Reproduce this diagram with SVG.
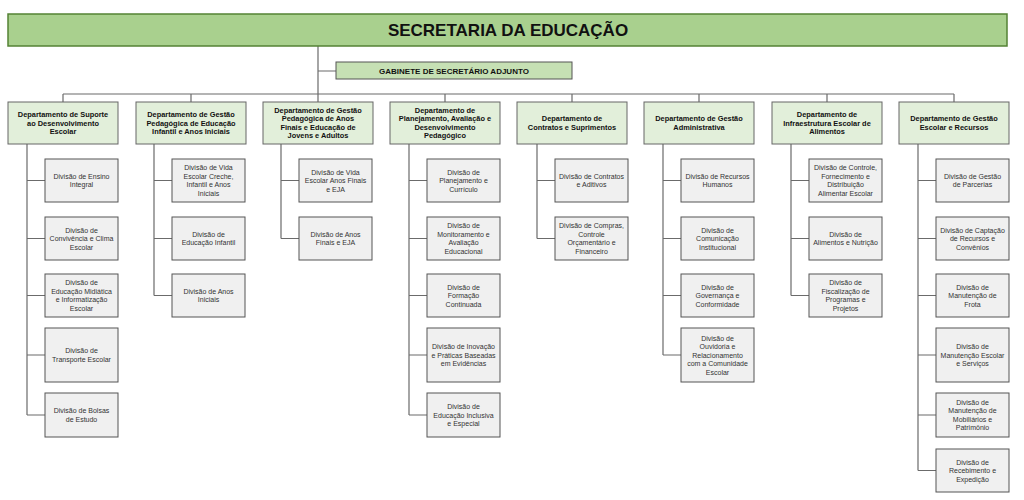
<svg xmlns="http://www.w3.org/2000/svg" width="1024" height="500" viewBox="0 0 1024 500">
<style>
.c{stroke:#6b6b6b;stroke-width:1.2;fill:none}
.top{fill:#a9d08e;stroke:#548235;stroke-width:1.5}
.gab{fill:#c6e0b4;stroke:#555;stroke-width:1}
.dep{fill:#e2efda;stroke:#666;stroke-width:1}
.div{fill:#f0f0f0;stroke:#555;stroke-width:1}
.dt{font-family:"Liberation Sans",Arial,sans-serif;font-size:7.4px;font-weight:bold;text-anchor:middle;fill:#111}
.vt{font-family:"Liberation Sans",Arial,sans-serif;font-size:7px;text-anchor:middle;fill:#333}
</style>
<rect width="1024" height="500" fill="#fff"/>
<g id="connectors">
<path class="c" d="M318 46V102M318 71H336M63 94H954M63 94V102M191 94V102M445 94V102M572 94V102M699 94V102M827 94V102M954 94V102"/>
<path class="c" d="M27 144V415M27 180.5H45M27 238.5H45M27 295.5H45M27 355H45M27 415H45"/>
<path class="c" d="M154 144V295.5M154 180.5H172M154 238.5H172M154 295.5H172"/>
<path class="c" d="M281 144V238.5M281 180.5H299M281 238.5H299"/>
<path class="c" d="M409 144V415M409 180.5H427M409 238.5H427M409 295.5H427M409 355H427M409 415H427"/>
<path class="c" d="M537 144V238.5M537 180.5H555M537 238.5H555"/>
<path class="c" d="M663 144V355M663 180.5H681M663 238.5H681M663 295.5H681M663 355H681"/>
<path class="c" d="M791 144V295.5M791 180.5H809M791 238.5H809M791 295.5H809"/>
<path class="c" d="M918 144V470.5M918 180.5H936M918 238.5H936M918 295.5H936M918 355H936M918 415H936M918 470.5H936"/>
</g>
<g id="secretaria"><rect class="top" x="8" y="14" width="999" height="32"/><text x="508" y="36" font-family="'Liberation Sans',Arial,sans-serif" font-size="17" font-weight="bold" text-anchor="middle" fill="#111">SECRETARIA DA EDUCAÇÃO</text></g>
<g id="gabinete"><rect class="gab" x="336" y="62" width="236" height="17"/><text class="dt" x="454" y="73.5" style="font-size:8px">GABINETE DE SECRETÁRIO ADJUNTO</text></g>

<g id="dep1"><rect class="dep" x="8" y="102" width="110" height="42"/><text class="dt" y="117"><tspan x="63">Departamento de Suporte</tspan><tspan x="63" dy="8.5">ao Desenvolvimento</tspan><tspan x="63" dy="8.5">Escolar</tspan></text></g>
<g id="dep2"><rect class="dep" x="136" y="102" width="110" height="42"/><text class="dt" y="117"><tspan x="191">Departamento de Gestão</tspan><tspan x="191" dy="8.5">Pedagógica de Educação</tspan><tspan x="191" dy="8.5">Infantil e Anos Iniciais</tspan></text></g>
<g id="dep3"><rect class="dep" x="263" y="102" width="110" height="42"/><text class="dt" y="112.5"><tspan x="318">Departamento de Gestão</tspan><tspan x="318" dy="8.5">Pedagógica de Anos</tspan><tspan x="318" dy="8.5">Finais e Educação de</tspan><tspan x="318" dy="8.5">Jovens e Adultos</tspan></text></g>
<g id="dep4"><rect class="dep" x="390" y="102" width="110" height="42"/><text class="dt" y="112.5"><tspan x="445">Departamento de</tspan><tspan x="445" dy="8.5">Planejamento, Avaliação e</tspan><tspan x="445" dy="8.5">Desenvolvimento</tspan><tspan x="445" dy="8.5">Pedagógico</tspan></text></g>
<g id="dep5"><rect class="dep" x="517" y="102" width="110" height="42"/><text class="dt" y="121"><tspan x="572">Departamento de</tspan><tspan x="572" dy="8.5">Contratos e Suprimentos</tspan></text></g>
<g id="dep6"><rect class="dep" x="644" y="102" width="110" height="42"/><text class="dt" y="121"><tspan x="699">Departamento de Gestão</tspan><tspan x="699" dy="8.5">Administrativa</tspan></text></g>
<g id="dep7"><rect class="dep" x="772" y="102" width="110" height="42"/><text class="dt" y="117"><tspan x="827">Departamento de</tspan><tspan x="827" dy="8.5">Infraestrutura Escolar de</tspan><tspan x="827" dy="8.5">Alimentos</tspan></text></g>
<g id="dep8"><rect class="dep" x="899" y="102" width="110" height="42"/><text class="dt" y="121"><tspan x="954">Departamento de Gestão</tspan><tspan x="954" dy="8.5">Escolar e Recursos</tspan></text></g>

<g id="d1-1"><rect class="div" x="45" y="159" width="73" height="43"/><text class="vt" y="178.75"><tspan x="81.5">Divisão de Ensino</tspan><tspan x="81.5" dy="8.5">Integral</tspan></text></g>
<g id="d1-2"><rect class="div" x="45" y="217" width="73" height="43"/><text class="vt" y="232.5"><tspan x="81.5">Divisão de</tspan><tspan x="81.5" dy="8.5">Convivência e Clima</tspan><tspan x="81.5" dy="8.5">Escolar</tspan></text></g>
<g id="d1-3"><rect class="div" x="45" y="274" width="73" height="43"/><text class="vt" y="285.25"><tspan x="81.5">Divisão de</tspan><tspan x="81.5" dy="8.5">Educação Midiática</tspan><tspan x="81.5" dy="8.5">e Informatização</tspan><tspan x="81.5" dy="8.5">Escolar</tspan></text></g>
<g id="d1-4"><rect class="div" x="45" y="328" width="73" height="54"/><text class="vt" y="353.25"><tspan x="81.5">Divisão de</tspan><tspan x="81.5" dy="8.5">Transporte Escolar</tspan></text></g>
<g id="d1-5"><rect class="div" x="45" y="393" width="73" height="44"/><text class="vt" y="413.25"><tspan x="81.5">Divisão de Bolsas</tspan><tspan x="81.5" dy="8.5">de Estudo</tspan></text></g>

<g id="d2-1"><rect class="div" x="172" y="159" width="73" height="43"/><text class="vt" y="170.25"><tspan x="208.5">Divisão de Vida</tspan><tspan x="208.5" dy="8.5">Escolar Creche,</tspan><tspan x="208.5" dy="8.5">Infantil e Anos</tspan><tspan x="208.5" dy="8.5">Iniciais</tspan></text></g>
<g id="d2-2"><rect class="div" x="172" y="217" width="73" height="43"/><text class="vt" y="236.75"><tspan x="208.5">Divisão de</tspan><tspan x="208.5" dy="8.5">Educação Infantil</tspan></text></g>
<g id="d2-3"><rect class="div" x="172" y="274" width="73" height="43"/><text class="vt" y="293.75"><tspan x="208.5">Divisão de Anos</tspan><tspan x="208.5" dy="8.5">Iniciais</tspan></text></g>

<g id="d3-1"><rect class="div" x="299" y="159" width="73" height="43"/><text class="vt" y="174.5"><tspan x="335.5">Divisão de Vida</tspan><tspan x="335.5" dy="8.5">Escolar Anos Finais</tspan><tspan x="335.5" dy="8.5">e EJA</tspan></text></g>
<g id="d3-2"><rect class="div" x="299" y="217" width="73" height="43"/><text class="vt" y="236.75"><tspan x="335.5">Divisão de Anos</tspan><tspan x="335.5" dy="8.5">Finais e EJA</tspan></text></g>

<g id="d4-1"><rect class="div" x="427" y="159" width="73" height="43"/><text class="vt" y="174.5"><tspan x="463.5">Divisão de</tspan><tspan x="463.5" dy="8.5">Planejamento e</tspan><tspan x="463.5" dy="8.5">Currículo</tspan></text></g>
<g id="d4-2"><rect class="div" x="427" y="217" width="73" height="43"/><text class="vt" y="228.25"><tspan x="463.5">Divisão de</tspan><tspan x="463.5" dy="8.5">Monitoramento e</tspan><tspan x="463.5" dy="8.5">Avaliação</tspan><tspan x="463.5" dy="8.5">Educacional</tspan></text></g>
<g id="d4-3"><rect class="div" x="427" y="274" width="73" height="43"/><text class="vt" y="289.5"><tspan x="463.5">Divisão de</tspan><tspan x="463.5" dy="8.5">Formação</tspan><tspan x="463.5" dy="8.5">Continuada</tspan></text></g>
<g id="d4-4"><rect class="div" x="427" y="328" width="73" height="54"/><text class="vt" y="349"><tspan x="463.5">Divisão de Inovação</tspan><tspan x="463.5" dy="8.5">e Práticas Baseadas</tspan><tspan x="463.5" dy="8.5">em Evidências</tspan></text></g>
<g id="d4-5"><rect class="div" x="427" y="393" width="73" height="44"/><text class="vt" y="409"><tspan x="463.5">Divisão de</tspan><tspan x="463.5" dy="8.5">Educação Inclusiva</tspan><tspan x="463.5" dy="8.5">e Especial</tspan></text></g>

<g id="d5-1"><rect class="div" x="555" y="159" width="73" height="43"/><text class="vt" y="178.75"><tspan x="591.5">Divisão de Contratos</tspan><tspan x="591.5" dy="8.5">e Aditivos</tspan></text></g>
<g id="d5-2"><rect class="div" x="555" y="217" width="73" height="43"/><text class="vt" y="228.25"><tspan x="591.5">Divisão de Compras,</tspan><tspan x="591.5" dy="8.5">Controle</tspan><tspan x="591.5" dy="8.5">Orçamentário e</tspan><tspan x="591.5" dy="8.5">Financeiro</tspan></text></g>

<g id="d6-1"><rect class="div" x="681" y="159" width="73" height="43"/><text class="vt" y="178.75"><tspan x="717.5">Divisão de Recursos</tspan><tspan x="717.5" dy="8.5">Humanos</tspan></text></g>
<g id="d6-2"><rect class="div" x="681" y="217" width="73" height="43"/><text class="vt" y="232.5"><tspan x="717.5">Divisão de</tspan><tspan x="717.5" dy="8.5">Comunicação</tspan><tspan x="717.5" dy="8.5">Institucional</tspan></text></g>
<g id="d6-3"><rect class="div" x="681" y="274" width="73" height="43"/><text class="vt" y="289.5"><tspan x="717.5">Divisão de</tspan><tspan x="717.5" dy="8.5">Governança e</tspan><tspan x="717.5" dy="8.5">Conformidade</tspan></text></g>
<g id="d6-4"><rect class="div" x="681" y="328" width="73" height="54"/><text class="vt" y="340.5"><tspan x="717.5">Divisão de</tspan><tspan x="717.5" dy="8.5">Ouvidoria e</tspan><tspan x="717.5" dy="8.5">Relacionamento</tspan><tspan x="717.5" dy="8.5">com a Comunidade</tspan><tspan x="717.5" dy="8.5">Escolar</tspan></text></g>

<g id="d7-1"><rect class="div" x="809" y="159" width="73" height="43"/><text class="vt" y="170.25"><tspan x="845.5">Divisão de Controle,</tspan><tspan x="845.5" dy="8.5">Fornecimento e</tspan><tspan x="845.5" dy="8.5">Distribuição</tspan><tspan x="845.5" dy="8.5">Alimentar Escolar</tspan></text></g>
<g id="d7-2"><rect class="div" x="809" y="217" width="73" height="43"/><text class="vt" y="236.75"><tspan x="845.5">Divisão de</tspan><tspan x="845.5" dy="8.5">Alimentos e Nutrição</tspan></text></g>
<g id="d7-3"><rect class="div" x="809" y="274" width="73" height="43"/><text class="vt" y="285.25"><tspan x="845.5">Divisão de</tspan><tspan x="845.5" dy="8.5">Fiscalização de</tspan><tspan x="845.5" dy="8.5">Programas e</tspan><tspan x="845.5" dy="8.5">Projetos</tspan></text></g>

<g id="d8-1"><rect class="div" x="936" y="159" width="73" height="43"/><text class="vt" y="178.75"><tspan x="972.5">Divisão de Gestão</tspan><tspan x="972.5" dy="8.5">de Parcerias</tspan></text></g>
<g id="d8-2"><rect class="div" x="936" y="217" width="73" height="43"/><text class="vt" y="232.5"><tspan x="972.5">Divisão de Captação</tspan><tspan x="972.5" dy="8.5">de Recursos e</tspan><tspan x="972.5" dy="8.5">Convênios</tspan></text></g>
<g id="d8-3"><rect class="div" x="936" y="274" width="73" height="43"/><text class="vt" y="289.5"><tspan x="972.5">Divisão de</tspan><tspan x="972.5" dy="8.5">Manutenção de</tspan><tspan x="972.5" dy="8.5">Frota</tspan></text></g>
<g id="d8-4"><rect class="div" x="936" y="328" width="73" height="54"/><text class="vt" y="349"><tspan x="972.5">Divisão de</tspan><tspan x="972.5" dy="8.5">Manutenção Escolar</tspan><tspan x="972.5" dy="8.5">e Serviços</tspan></text></g>
<g id="d8-5"><rect class="div" x="936" y="393" width="73" height="44"/><text class="vt" y="404.75"><tspan x="972.5">Divisão de</tspan><tspan x="972.5" dy="8.5">Manutenção de</tspan><tspan x="972.5" dy="8.5">Mobiliários e</tspan><tspan x="972.5" dy="8.5">Patrimônio</tspan></text></g>
<g id="d8-6"><rect class="div" x="936" y="449" width="73" height="43"/><text class="vt" y="464.5"><tspan x="972.5">Divisão de</tspan><tspan x="972.5" dy="8.5">Recebimento e</tspan><tspan x="972.5" dy="8.5">Expedição</tspan></text></g>
</svg>
